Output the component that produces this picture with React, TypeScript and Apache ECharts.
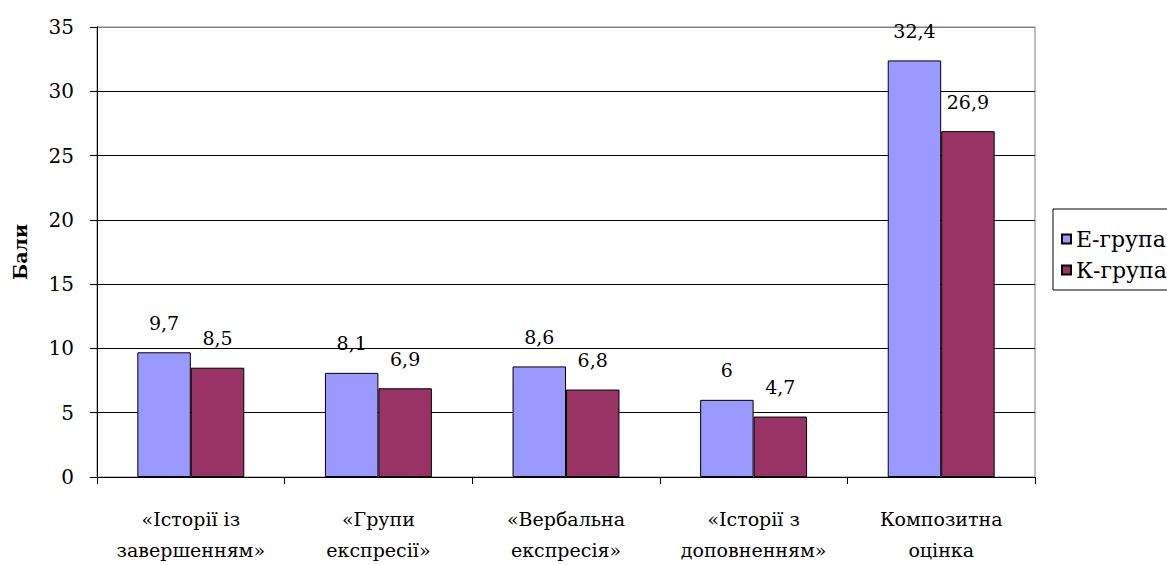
import React, { useEffect, useRef } from "react";
import * as echarts from "echarts";

const categories = [
  "«Історії із\nзавершенням»",
  "«Групи\nекспресії»",
  "«Вербальна\nекспресія»",
  "«Історії з\nдоповненням»",
  "Композитна\nоцінка",
];
const seriesNames = ["Е-група", "К-група"];
const eGroup = [9.7, 8.1, 8.6, 6, 32.4];
const kGroup = [8.5, 6.9, 6.8, 4.7, 26.9];
const yTitle = "Бали";

const FONT = "DejaVu Serif";

export default function App() {
  const ref = useRef<HTMLDivElement>(null);
  useEffect(() => {
    if (!ref.current) return;
    const chart = echarts.init(ref.current, null, { renderer: "svg" });
    const label = {
      show: true,
      position: "top",
      distance: 20,
      fontFamily: FONT,
      fontSize: 19,
      color: "#000",
      formatter: (p: any) => String(p.value).replace(".", ","),
    };
    chart.setOption({
      animation: false,
      backgroundColor: "#ffffff",
      textStyle: { fontFamily: FONT, fontSize: 19 },
      grid: {
        left: 97,
        top: 27,
        right: 132,
        bottom: 88,
        outerBoundsMode: "none",
        containLabel: false,
        show: true,
        borderColor: "#808080",
        borderWidth: 1,
      },
      legend: {
        orient: "vertical",
        left: 1053,
        top: 209,
        borderColor: "#000000",
        borderWidth: 1,
        padding: [19, 10, 9, 8],
        itemGap: 9,
        itemWidth: 9,
        itemHeight: 9,
        icon: "rect",
        textStyle: { fontFamily: FONT, fontSize: 22, color: "#000000" },
        data: seriesNames,
      },
      xAxis: {
        type: "category",
        data: categories,
        axisLine: { lineStyle: { color: "#000000", width: 1 } },
        axisTick: { show: true, length: 7, lineStyle: { color: "#000000" } },
        axisLabel: {
          fontFamily: FONT,
          fontSize: 19,
          color: "#000000",
          lineHeight: 31,
          margin: 26,
          interval: 0,
        },
      },
      yAxis: {
        type: "value",
        min: 0,
        max: 35,
        interval: 5,
        name: yTitle,
        nameLocation: "middle",
        nameGap: 68,
        nameRotate: 90,
        nameTextStyle: { fontFamily: FONT, fontSize: 19, fontWeight: "bold", color: "#000000" },
        axisLine: { show: true, lineStyle: { color: "#000000", width: 1 } },
        axisTick: { show: true, length: 7, lineStyle: { color: "#000000" } },
        axisLabel: { fontFamily: FONT, fontSize: 20, color: "#000000", margin: 23 },
        splitLine: {
          show: true,
          lineStyle: {
            color: ["#000000", "#000000", "#000000", "#000000", "#000000", "#000000", "#000000", "#808080"],
            width: 1,
          },
        },
      },
      series: [
        {
          name: seriesNames[0],
          type: "bar",
          data: eGroup,
          barGap: "0%",
          barCategoryGap: "43%",
          itemStyle: { color: "#9999FF", borderColor: "#000000", borderWidth: 1 },
          label,
        },
        {
          name: seriesNames[1],
          type: "bar",
          data: kGroup,
          itemStyle: { color: "#993366", borderColor: "#000000", borderWidth: 1 },
          label,
        },
      ],
    });
    return () => chart.dispose();
  }, []);
  return (
    <div
      ref={ref}
      style={{ position: "absolute", left: 0, top: 0, width: "1167px", height: "565px" }}
    />
  );
}
